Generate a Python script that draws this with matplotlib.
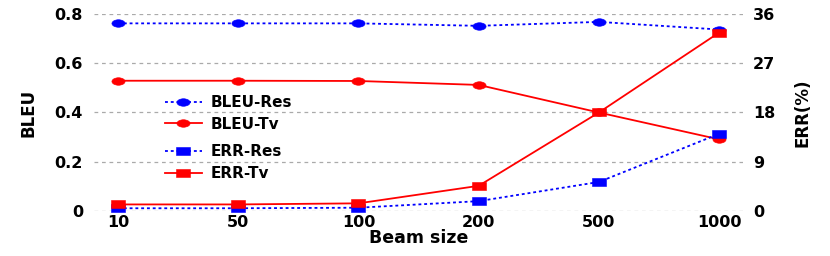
import matplotlib
matplotlib.use("Agg")
import matplotlib.pyplot as plt
import numpy as np
from matplotlib.path import Path

plt.rcParams["font.family"] = ["DejaVu Sans"]
plt.rcParams["font.weight"] = "bold"

beam_sizes = ["10", "50", "100", "200", "500", "1000"]
bleu_res = [0.762, 0.762, 0.762, 0.752, 0.768, 0.737]
bleu_tv = [0.529, 0.529, 0.528, 0.512, 0.400, 0.291]
err_res = [0.5, 0.5, 0.6, 1.8, 5.3, 14.1]
err_tv = [1.2, 1.2, 1.4, 4.6, 18.0, 32.6]

x = np.arange(len(beam_sizes))
dotted = (0, (1.6, 1.6))

# the reference looks stretched sideways, so use wide markers
circ = Path.unit_circle()
ellipse = Path(circ.vertices * np.array([1.75, 1.0]), circ.codes)
rect = Path([(-1.75, -1), (1.75, -1), (1.75, 1), (-1.75, 1), (-1.75, -1)],
            [Path.MOVETO, Path.LINETO, Path.LINETO, Path.LINETO, Path.CLOSEPOLY])

fig = plt.figure(figsize=(8.3, 2.56), dpi=100)
ax = fig.add_axes([0.1133, 0.1758, 0.782, 0.7695])
ax2 = ax.twinx()

ax.set_ylim(0, 0.8)
ax2.set_ylim(0, 36)
ax.set_xlim(-0.2, 5.2)
ax.set_yticks([0, 0.2, 0.4, 0.6, 0.8])
ax.set_yticklabels(["0", "0.2", "0.4", "0.6", "0.8"])
ax2.set_yticks([0, 9, 18, 27, 36])
ax.grid(axis="y", linestyle=(0, (3, 3)), color="#aaaaaa", linewidth=0.9)
ax.set_axisbelow(True)

for a in (ax, ax2):
    for s in a.spines.values():
        s.set_visible(False)
    a.tick_params(length=0, labelsize=11.5)

ax.set_xticks(x)
ax.set_xticklabels(beam_sizes)
ax.tick_params(axis="x", pad=3)
ax.tick_params(axis="y", pad=8)
ax2.tick_params(axis="y", pad=7)

kw = dict(markersize=9.5, linewidth=1.3, markeredgewidth=0.4, clip_on=False)
l1, = ax.plot(x, bleu_res, color="blue", linestyle=dotted, marker=ellipse, label="BLEU-Res", **kw)
l2, = ax.plot(x, bleu_tv, color="red", linestyle="-", marker=ellipse, label="BLEU-Tv", **kw)
l3, = ax2.plot(x, err_res, color="blue", linestyle=dotted, marker=rect, label="ERR-Res", **kw)
l4, = ax2.plot(x, err_tv, color="red", linestyle="-", marker=rect, label="ERR-Tv", **kw)

ax.set_xlabel("Beam size", fontsize=12.5, fontweight="bold", labelpad=-1)
ax.set_ylabel("BLEU", fontsize=12, fontweight="bold", labelpad=12)
ax2.set_ylabel("ERR(%)", fontsize=12, fontweight="bold", labelpad=13)

leg_kw = dict(loc="upper left", frameon=False, fontsize=11, handlelength=2.4,
              handletextpad=0.6, labelspacing=0.45, borderaxespad=0)
leg1 = ax2.legend(handles=[l1, l2], bbox_to_anchor=(0.1, 0.62), **leg_kw)
ax2.add_artist(leg1)
ax2.legend(handles=[l3, l4], bbox_to_anchor=(0.1, 0.37), **leg_kw)

fig.savefig("out.png", dpi=100)
